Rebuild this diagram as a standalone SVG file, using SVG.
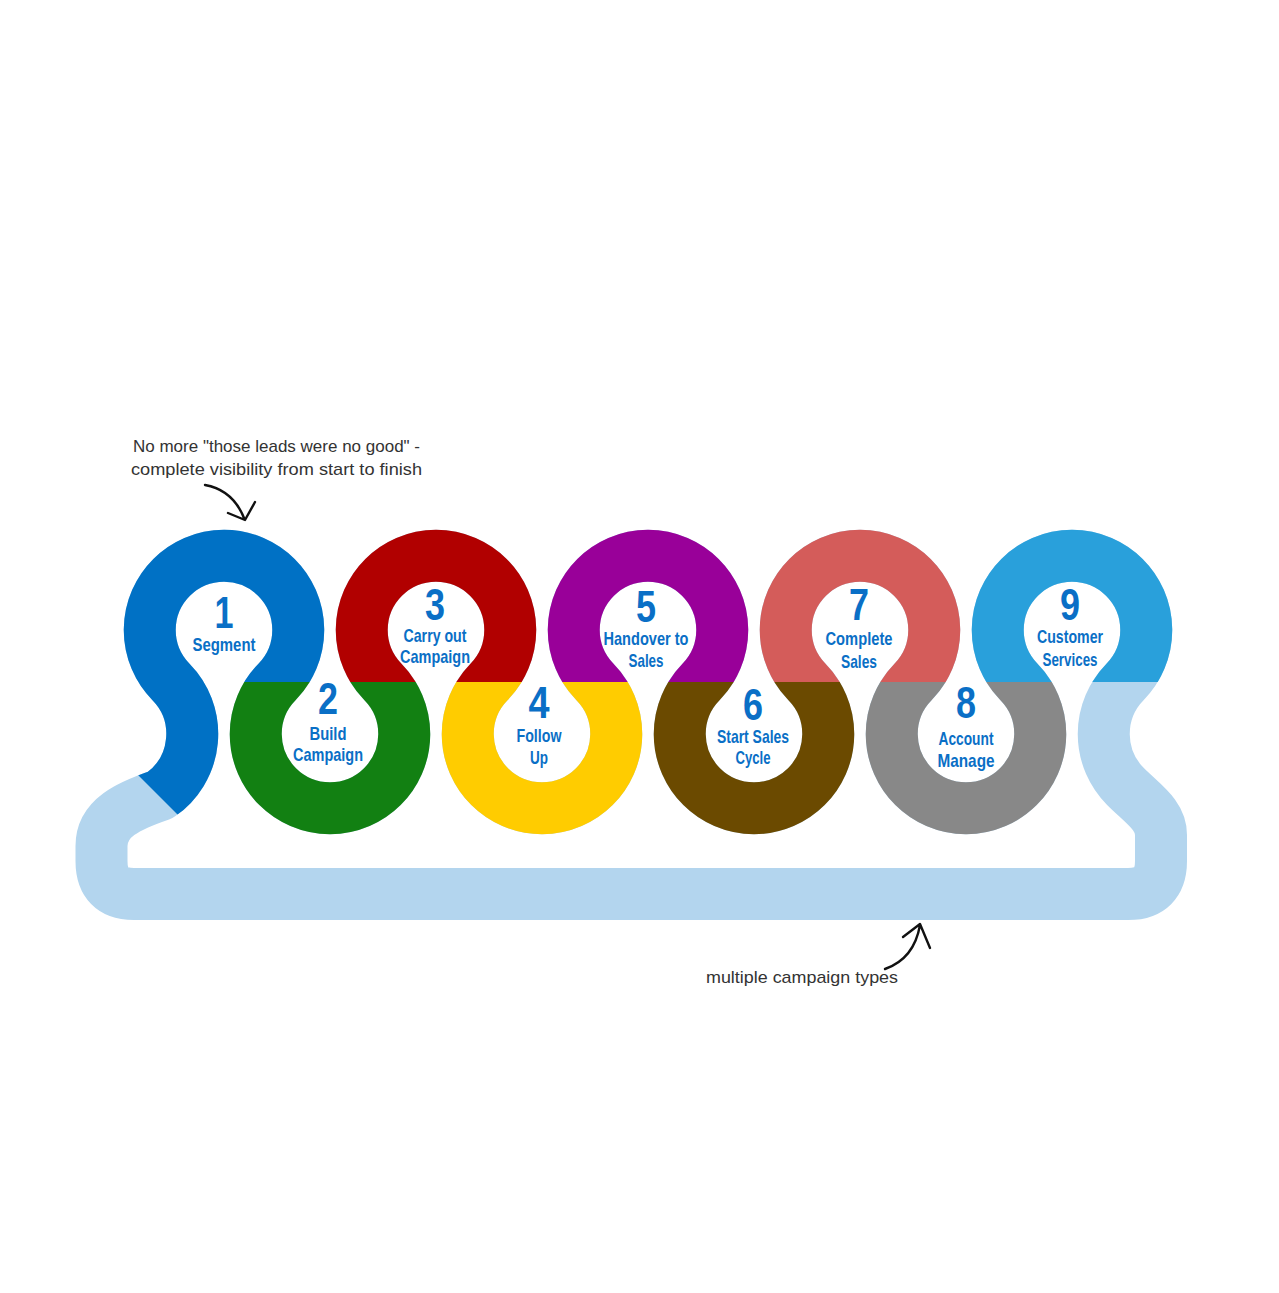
<svg xmlns="http://www.w3.org/2000/svg" xmlns:xlink="http://www.w3.org/1999/xlink" width="1279" height="1293" viewBox="0 0 1279 1293">
<style>
.band{fill:none;stroke-width:52;stroke-linejoin:round}
.num{font-family:"Liberation Sans",Arial,sans-serif;font-weight:bold;font-size:45px;fill:#0a6fc6;text-anchor:middle}
.lbl{font-family:"Liberation Sans",Arial,sans-serif;font-weight:bold;font-size:19px;fill:#0a6fc6;text-anchor:middle}
.note{font-family:"Liberation Sans",Arial,sans-serif;font-size:17px;fill:#333}
.arrow{fill:none;stroke:#111;stroke-width:2.4;stroke-linecap:round;stroke-linejoin:round}
</style>
<defs>
<path id="track" d="M160.6,794.8 A74.25,74.25 0 0 0 171,682 A74.25,74.25 0 1 1 277,682 A74.25,74.25 0 1 0 383,682 A74.25,74.25 0 1 1 489,682 A74.25,74.25 0 1 0 595,682 A74.25,74.25 0 1 1 701,682 A74.25,74.25 0 1 0 807,682 A74.25,74.25 0 1 1 913,682 A74.25,74.25 0 1 0 1019,682 A74.25,74.25 0 1 1 1125,682 A74.25,74.25 0 0 0 1125.5,786.5 C1143.5,804.5 1161,815 1161,835 L1161,861 Q1161,894 1128,894 L134,894 Q101.5,894 101.5,861 L101.5,846 C101.5,818 128,806 160.6,794.8 Z"/>
<clipPath id="c1"><polygon points="0,0 330,0 330,682 224,682 224,861 0,637"/></clipPath>
<clipPath id="c2"><rect x="224" y="682" width="212" height="168"/></clipPath>
<clipPath id="c3"><rect x="330" y="0" width="212" height="682"/></clipPath>
<clipPath id="c4"><rect x="436" y="682" width="212" height="168"/></clipPath>
<clipPath id="c5"><rect x="542" y="0" width="212" height="682"/></clipPath>
<clipPath id="c6"><rect x="648" y="682" width="212" height="168"/></clipPath>
<clipPath id="c7"><rect x="754" y="0" width="212" height="682"/></clipPath>
<clipPath id="c8"><rect x="860" y="682" width="212" height="168"/></clipPath>
<clipPath id="c9"><rect x="966" y="0" width="260" height="682"/></clipPath>
</defs>
<rect width="1279" height="1293" fill="#fff"/>
<g id="connectors">
<use xlink:href="#track" class="band" stroke="#b3d5ee" stroke-width="50"/>
<path class="arrow" d="M205,485 C222,488 236,498 244,518 M228,513 L245,520 L255,502"/>
<path class="arrow" d="M885,969 C905,962 916,948 920,925 M903,937 L920,924 L930,948"/>
</g>
<g id="node1"><use xlink:href="#track" class="band" stroke="#0071c5" clip-path="url(#c1)"/><text class="num" x="224" y="628" textLength="19" lengthAdjust="spacingAndGlyphs">1</text><text class="lbl" x="224" y="651" textLength="63" lengthAdjust="spacingAndGlyphs">Segment</text></g>
<g id="node2"><use xlink:href="#track" class="band" stroke="#128012" clip-path="url(#c2)"/><text class="num" x="328" y="714" textLength="20" lengthAdjust="spacingAndGlyphs">2</text><text class="lbl" x="328" y="740" textLength="37" lengthAdjust="spacingAndGlyphs">Build</text><text class="lbl" x="328" y="761" textLength="70" lengthAdjust="spacingAndGlyphs">Campaign</text></g>
<g id="node3"><use xlink:href="#track" class="band" stroke="#b10000" clip-path="url(#c3)"/><text class="num" x="435" y="620" textLength="20" lengthAdjust="spacingAndGlyphs">3</text><text class="lbl" x="435" y="642" textLength="63" lengthAdjust="spacingAndGlyphs">Carry out</text><text class="lbl" x="435" y="663" textLength="70" lengthAdjust="spacingAndGlyphs">Campaign</text></g>
<g id="node4"><use xlink:href="#track" class="band" stroke="#ffcc00" clip-path="url(#c4)"/><text class="num" x="539" y="718" textLength="21" lengthAdjust="spacingAndGlyphs">4</text><text class="lbl" x="539" y="742" textLength="45" lengthAdjust="spacingAndGlyphs">Follow</text><text class="lbl" x="539" y="764" textLength="18" lengthAdjust="spacingAndGlyphs">Up</text></g>
<g id="node5"><use xlink:href="#track" class="band" stroke="#990099" clip-path="url(#c5)"/><text class="num" x="646" y="622" textLength="20" lengthAdjust="spacingAndGlyphs">5</text><text class="lbl" x="646" y="645" textLength="85" lengthAdjust="spacingAndGlyphs">Handover to</text><text class="lbl" x="646" y="667" textLength="35" lengthAdjust="spacingAndGlyphs">Sales</text></g>
<g id="node6"><use xlink:href="#track" class="band" stroke="#6b4a00" clip-path="url(#c6)"/><text class="num" x="753" y="720" textLength="20" lengthAdjust="spacingAndGlyphs">6</text><text class="lbl" x="753" y="743" textLength="72" lengthAdjust="spacingAndGlyphs">Start Sales</text><text class="lbl" x="753" y="764" textLength="35" lengthAdjust="spacingAndGlyphs">Cycle</text></g>
<g id="node7"><use xlink:href="#track" class="band" stroke="#d45c5a" clip-path="url(#c7)"/><text class="num" x="859" y="620" textLength="20" lengthAdjust="spacingAndGlyphs">7</text><text class="lbl" x="859" y="645" textLength="67" lengthAdjust="spacingAndGlyphs">Complete</text><text class="lbl" x="859" y="668" textLength="36" lengthAdjust="spacingAndGlyphs">Sales</text></g>
<g id="node8"><use xlink:href="#track" class="band" stroke="#888888" clip-path="url(#c8)"/><text class="num" x="966" y="718" textLength="20" lengthAdjust="spacingAndGlyphs">8</text><text class="lbl" x="966" y="745" textLength="55" lengthAdjust="spacingAndGlyphs">Account</text><text class="lbl" x="966" y="767" textLength="57" lengthAdjust="spacingAndGlyphs">Manage</text></g>
<g id="node9"><use xlink:href="#track" class="band" stroke="#29a0db" clip-path="url(#c9)"/><text class="num" x="1070" y="620" textLength="20" lengthAdjust="spacingAndGlyphs">9</text><text class="lbl" x="1070" y="643" textLength="66" lengthAdjust="spacingAndGlyphs">Customer</text><text class="lbl" x="1070" y="666" textLength="55" lengthAdjust="spacingAndGlyphs">Services</text></g>
<g id="notes">
<text class="note" x="133" y="452" textLength="287" lengthAdjust="spacingAndGlyphs">No more "those leads were no good" -</text>
<text class="note" x="131" y="475" textLength="291" lengthAdjust="spacingAndGlyphs">complete visibility from start to finish</text>
<text class="note" x="706" y="983" textLength="192" lengthAdjust="spacingAndGlyphs">multiple campaign types</text>
</g>
</svg>
